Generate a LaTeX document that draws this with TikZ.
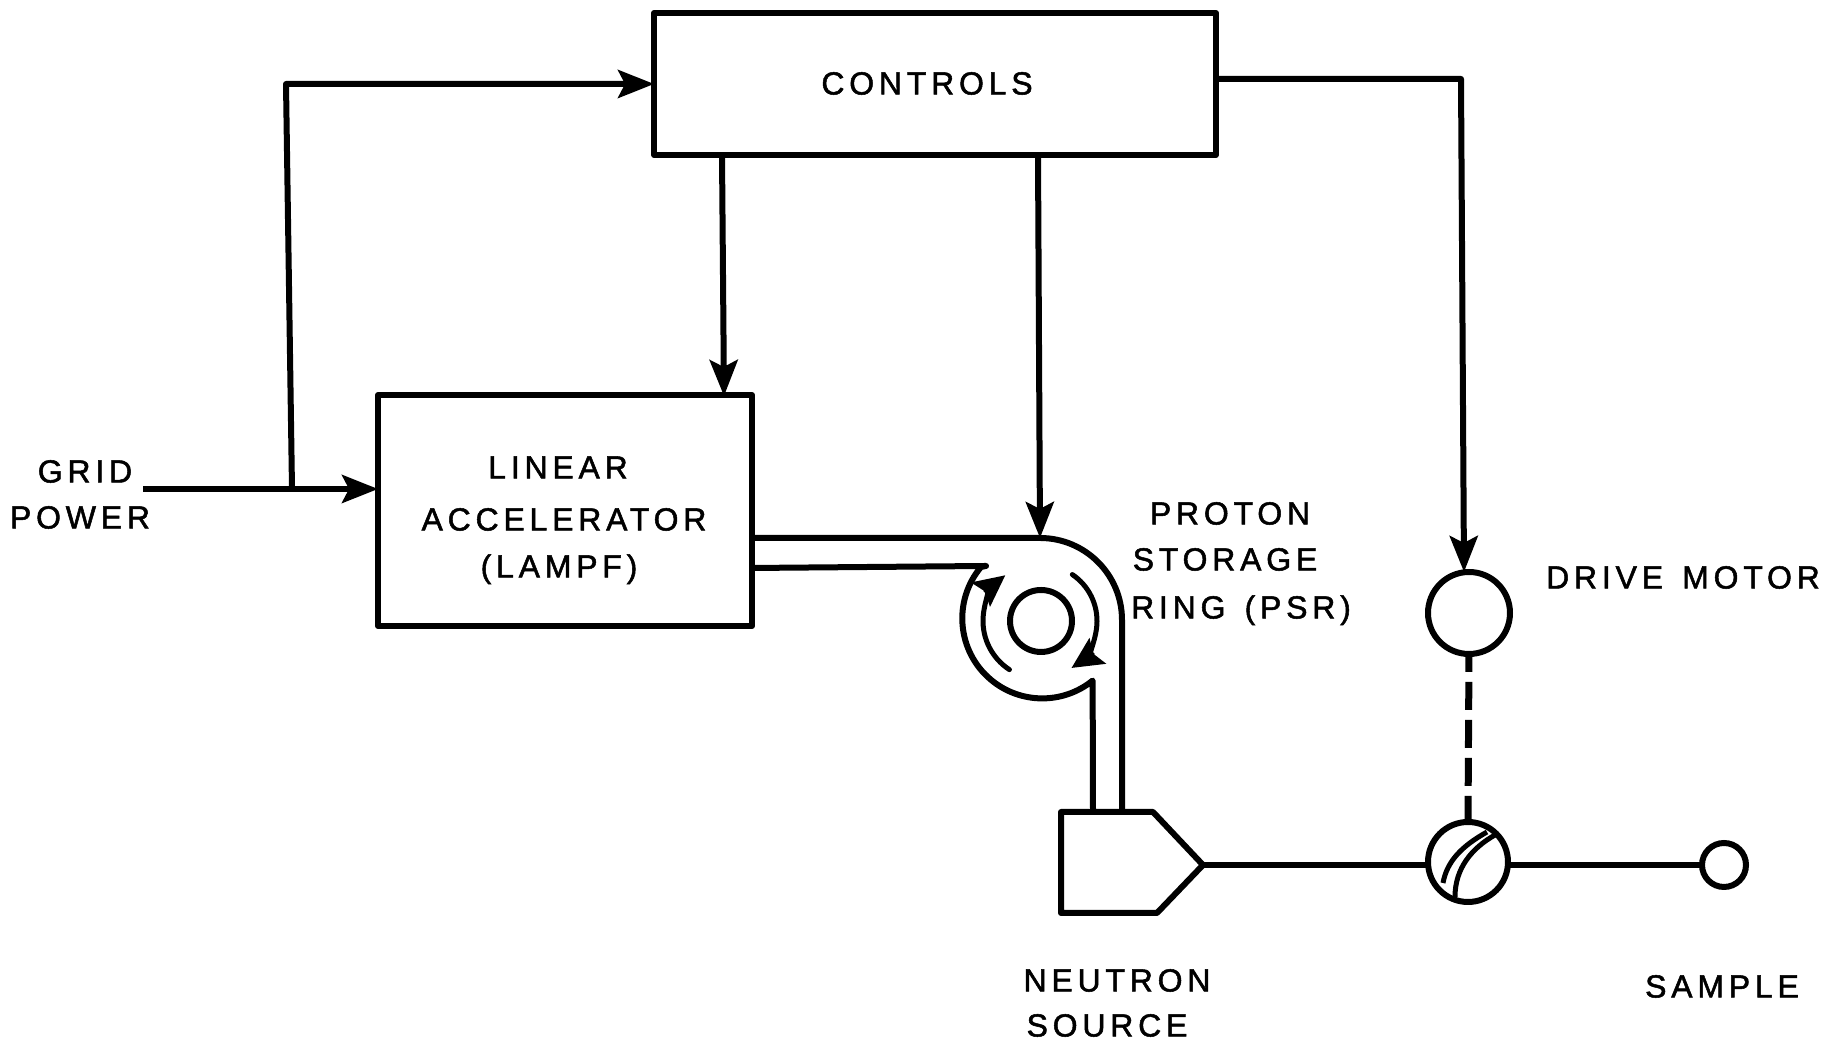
\documentclass[tikz,border=0pt]{standalone}
\usepackage{fontspec}
\setmainfont[LetterSpace=15,FakeBold=1.6,WordSpace=1.4]{Liberation Sans}
\usetikzlibrary{arrows.meta}
\tikzset{
  x=0.02cm,y=0.02cm,
  wire/.style={line width=0.12cm,line join=round},
  flow/.style={wire,-{Stealth[length=0.72cm,width=0.56cm,inset=0.14cm]}},
  ringflow/.style={line width=0.1cm,line cap=round,-{Stealth[length=0.62cm,width=0.6cm,inset=0.1cm]}},
  blockbox/.style={draw,line width=0.12cm,line join=round,inner sep=0,outer sep=0,rectangle},
  disc/.style={draw,line width=0.12cm,circle,inner sep=0,outer sep=0},
  lbl/.style={inner sep=0,outer sep=0,text height=0.46cm,text depth=0pt,font=\fontsize{18.2}{22}\selectfont},
}
\begin{document}
\begin{tikzpicture}
\useasboundingbox (0,0) rectangle (1823,1043);
% blocks
\node[blockbox,minimum width=11.24cm,minimum height=2.84cm] (controls) at (935,959) {};
\node[blockbox,minimum width=7.48cm,minimum height=4.62cm] (linac) at (565,532.5) {};
\node[disc,minimum size=1.64cm] (motor) at (1469,430) {};
\node[disc,minimum size=1.6cm] (chopper) at (1468,181) {};
\node[disc,minimum size=0.88cm] (sample) at (1724,178) {};
\node[disc,minimum size=1.24cm] (core) at (1041,422) {};
% neutron source
\coordinate (srctip) at (1203,178);
\coordinate (beamA) at (1428,178);
\coordinate (beamB) at (1508,178);
\draw[wire] (1061,231) coordinate (srcnw) -- (1153,231) -- (srctip) -- (1157,130) -- (1061,130) -- cycle;
% free ends and bends
\coordinate (gridin) at (143,554);
\coordinate (branch) at (292,554);
\coordinate (bendtop) at (286,959);
\coordinate (tolinac) at (724,647);
\coordinate (ctrlb) at (722,888);
\coordinate (toring) at (1040,505);
\coordinate (ringb) at (1038,888);
\coordinate (ctrlout) at (1216,964);
\coordinate (bendout) at (1461,964);
\coordinate (tomotor) at (1464,471);
% control wiring
\draw[wire] (gridin) -- (branch);
\draw[flow] (branch) -- (linac.west |- branch);
\draw[flow] (branch) -- (bendtop) -- (controls.west);
\draw[flow] (ctrlb) -- (tolinac);
\draw[flow] (ringb) -- (toring);
\draw[flow] (ctrlout) -- (bendout) -- (tomotor);
\draw[line width=0.14cm,dash pattern=on 0.56cm off 0.2cm,dash phase=0.2cm] (motor.south) -- (chopper.north);
% proton transport and ring
\draw[wire] (linac.east |- toring) -- (1040,505) arc[start angle=90,end angle=0,radius=82] -- (1122,231);
\draw[wire] (752,475) -- (986,477) -- (981,476) arc[start angle=140,end angle=309,radius=80] -- (1093,231);
\draw[ringflow] (core) ++(237:58) arc[start angle=237,end angle=128,radius=58];
\draw[ringflow] (core) ++(56:56) arc[start angle=56,end angle=-57,radius=56];
% neutron beam
\draw[wire] (srctip) -- (beamA);
\draw[wire] (beamB) -- (sample.west);
% chopper slot
\draw[line width=0.1cm] (1487,211) .. controls (1462,197) and (1447,182) .. (1443,160);
\draw[line width=0.1cm] (1495,208) .. controls (1472,195) and (1455,175) .. (1455,146);
% labels
\node[lbl] (tcontrols) at (927,960) {CONTROLS};
\node[lbl] (tlinear) at (558,576) {LINEAR};
\node[lbl] (taccel) at (564,524) {ACCELERATOR};
\node[lbl] (tlampf) at (559,477) {(LAMPF)};
\node[lbl] (tgrid) at (85,572) {GRID};
\node[lbl] (tpower) at (80,526) {POWER};
\node[lbl] (tproton) at (1230,530) {PROTON};
\node[lbl] (tstorage) at (1225,484) {STORAGE};
\node[lbl] (tpsr) at (1241,436) {RING (PSR)};
\node[lbl] (tdrive) at (1683,466) {DRIVE MOTOR};
\node[lbl] (tneutron) at (1117,63) {NEUTRON};
\node[lbl] (tsource) at (1107,18) {SOURCE};
\node[lbl] (tsample) at (1722,57) {SAMPLE};
\end{tikzpicture}
\end{document}
